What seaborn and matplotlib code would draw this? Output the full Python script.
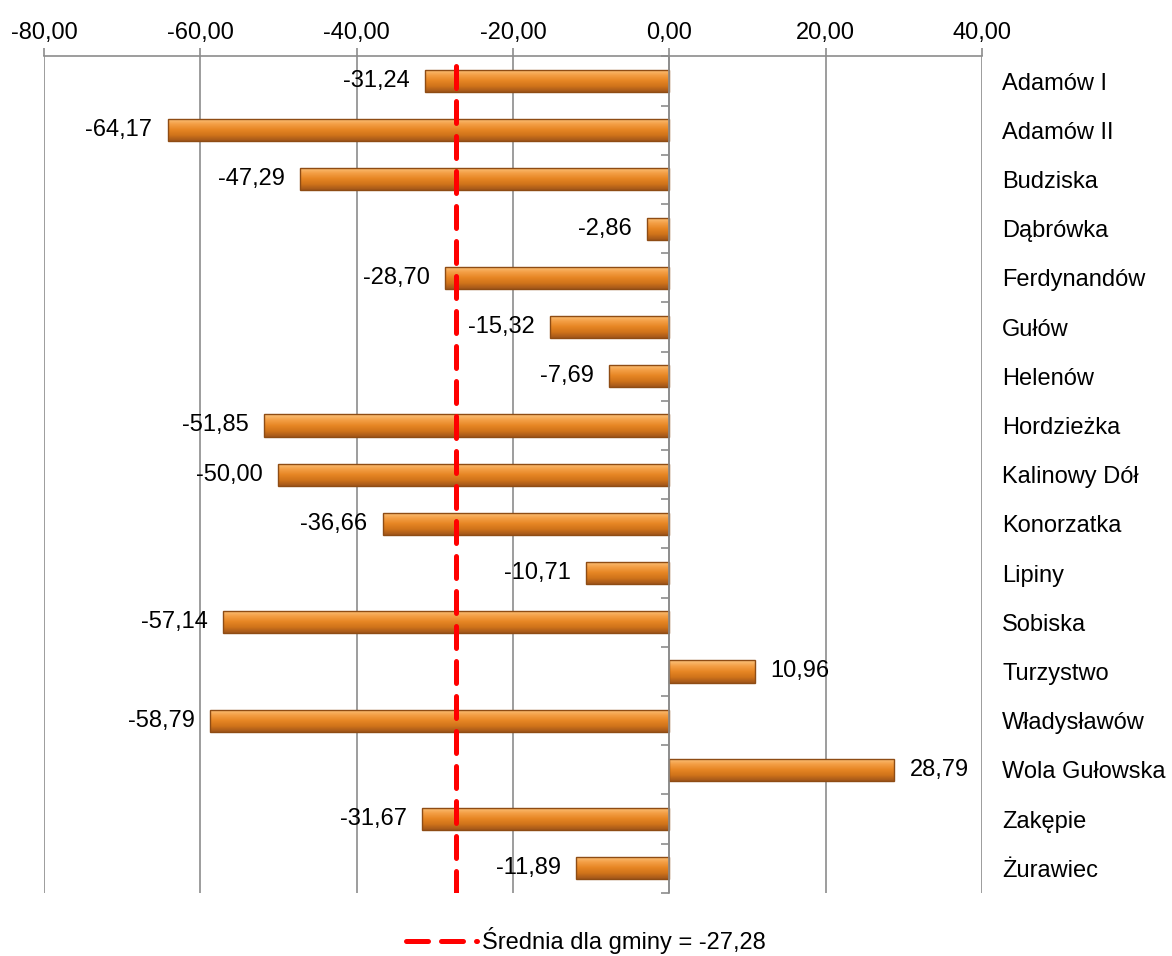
import numpy as np
import pandas as pd
import matplotlib
matplotlib.use("Agg")
import matplotlib.pyplot as plt
from matplotlib.lines import Line2D
from matplotlib.colors import LinearSegmentedColormap
import seaborn as sns

categories = ["Adamów I", "Adamów II", "Budziska", "Dąbrówka", "Ferdynandów",
              "Gułów", "Helenów", "Hordzieżka", "Kalinowy Dół", "Konorzatka",
              "Lipiny", "Sobiska", "Turzystwo", "Władysławów", "Wola Gułowska",
              "Zakępie", "Żurawiec"]
values = [-31.24, -64.17, -47.29, -2.86, -28.70, -15.32, -7.69, -51.85, -50.00,
          -36.66, -10.71, -57.14, 10.96, -58.79, 28.79, -31.67, -11.89]
average = -27.28
x_ticks = [-80, -60, -40, -20, 0, 20, 40]

def fmt(v):
    return f"{v:.2f}".replace(".", ",")

df = pd.DataFrame({"Miejscowość": categories, "Wartość": values})

sns.set_style("white")
plt.rcParams["font.family"] = ["Liberation Sans", "DejaVu Sans"]
plt.rcParams["text.color"] = "black"
plt.rcParams["xtick.labelcolor"] = "black"
plt.rcParams["ytick.labelcolor"] = "black"
FS = 17

fig = plt.figure(figsize=(11.72, 9.56), dpi=100)
ax = fig.add_axes([0.0375, 0.066, 0.8005, 0.875])

sns.barplot(data=df, x="Wartość", y="Miejscowość", orient="h", ax=ax,
            color="#E2842C", width=0.45, edgecolor="#8E4C14", linewidth=1.0,
            saturation=1)

ax.set_xlim(-80, 40)
ax.set_ylim(len(categories) - 0.5, -0.5)

for c in ax.containers:
    ax.bar_label(c, labels=[fmt(v) for v in values], padding=11, fontsize=FS)

# orange bevel-like gradient clipped to each bar
grad = LinearSegmentedColormap.from_list(
    "bar", ["#FCC47E", "#F4A047", "#E78624", "#D0731A", "#A0561A"])
g = np.linspace(0, 1, 64).reshape(-1, 1)
for p in list(ax.patches):
    x0, y0 = p.get_x(), p.get_y()
    w, h = p.get_width(), p.get_height()
    xa, xb = sorted([x0, x0 + w])
    im = ax.imshow(g, cmap=grad, aspect="auto", interpolation="bilinear",
                   extent=(xa, xb, y0 + h, y0), zorder=0.9)
    im.set_clip_path(p)
    p.set_facecolor("none")

ax.axvline(average, color="#FF0000", lw=3.6, linestyle=(0, (4.4, 2.6)),
           dash_capstyle="round", zorder=5)

ax.set_xlim(-80, 40)
ax.set_ylim(len(categories) - 0.5, -0.5)
ax.set_aspect("auto")
ax.set_xticks(x_ticks)
ax.set_xticklabels([fmt(t) for t in x_ticks], fontsize=FS)
ax.xaxis.tick_top()
ax.tick_params(axis="x", which="major", top=True, length=6, color="#8C8C8C",
               width=1.2, pad=3)
ax.grid(axis="x", color="#8C8C8C", lw=1.2, zorder=0)
ax.set_axisbelow(True)
ax.set_xlabel("")
ax.set_ylabel("")

ax.spines["bottom"].set_visible(False)
ax.spines["right"].set_visible(False)
ax.spines["top"].set_color("#8C8C8C")
ax.spines["top"].set_linewidth(1.2)
ax.spines["left"].set_position(("data", 0))
ax.spines["left"].set_color("#8C8C8C")
ax.spines["left"].set_linewidth(1.2)

ax.set_yticks(range(len(categories)))
ax.set_yticklabels(categories, fontsize=FS)
ax.set_yticks(np.arange(len(categories) + 1) - 0.5, minor=True)
ax.tick_params(axis="y", which="major", left=False, right=False,
               labelleft=False, labelright=True, pad=11)
ax.tick_params(axis="y", which="minor", left=True, right=False, length=6,
               color="#8C8C8C", width=1.2, direction="out")

handle = Line2D([], [], color="#FF0000", lw=3.6, linestyle=(0, (4.4, 2.6)),
                dash_capstyle="round")
fig.legend([handle], [f"Średnia dla gminy = {fmt(average)}"], loc="lower center",
           bbox_to_anchor=(0.5, -0.02), frameon=False, fontsize=FS,
           handlelength=3.0, handletextpad=0.2)

fig.savefig("out.png", dpi=100)
